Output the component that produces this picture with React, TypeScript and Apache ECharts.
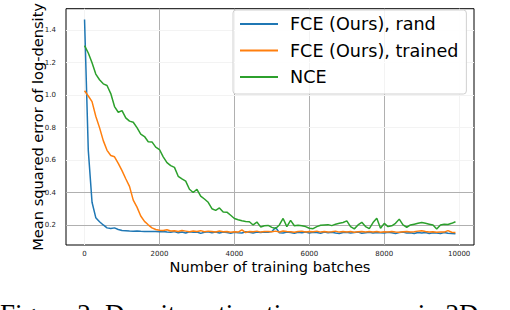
import React, { useEffect, useRef } from "react";
import * as echarts from "echarts";

const batches: number[] = Array.from({ length: 100 }, (_, i) => i * 100);

const randValues: number[] = [
  1.466, 0.66, 0.34, 0.245, 0.22, 0.2, 0.182, 0.178, 0.182, 0.172,
  0.166, 0.165, 0.163, 0.162, 0.163, 0.161, 0.16, 0.16, 0.159, 0.16,
  0.158, 0.16, 0.156, 0.155, 0.16, 0.152, 0.157, 0.15, 0.158, 0.155,
  0.157, 0.148, 0.155, 0.158, 0.152, 0.156, 0.15, 0.157, 0.153, 0.149,
  0.155, 0.152, 0.15, 0.158, 0.155, 0.151, 0.156, 0.153, 0.157, 0.155,
  0.16, 0.185, 0.152, 0.15, 0.156, 0.154, 0.149, 0.155, 0.152, 0.157,
  0.15, 0.155, 0.153, 0.149, 0.156, 0.152, 0.155, 0.151, 0.148, 0.154,
  0.155, 0.15, 0.153, 0.156, 0.149, 0.152, 0.155, 0.15, 0.154, 0.152,
  0.15, 0.155, 0.152, 0.148, 0.153, 0.156, 0.15, 0.152, 0.147, 0.153,
  0.15, 0.154, 0.148, 0.152, 0.15, 0.147, 0.153, 0.149, 0.148, 0.146,
];

const trainedValues: number[] = [
  1.027, 0.995, 0.96, 0.87, 0.8, 0.72, 0.66, 0.628, 0.62, 0.58,
  0.535, 0.485, 0.438, 0.353, 0.31, 0.255, 0.222, 0.201, 0.182, 0.172,
  0.167, 0.166, 0.17, 0.163, 0.165, 0.16, 0.166, 0.162, 0.158, 0.163,
  0.16, 0.165, 0.158, 0.162, 0.16, 0.157, 0.163, 0.158, 0.16, 0.155,
  0.158, 0.156, 0.17, 0.153, 0.16, 0.158, 0.162, 0.156, 0.159, 0.16,
  0.158, 0.162, 0.157, 0.163, 0.16, 0.158, 0.155, 0.16, 0.162, 0.157,
  0.16, 0.158, 0.162, 0.156, 0.16, 0.157, 0.158, 0.162, 0.156, 0.159,
  0.157, 0.16, 0.155, 0.158, 0.16, 0.156, 0.159, 0.157, 0.16, 0.155,
  0.158, 0.156, 0.16, 0.157, 0.155, 0.158, 0.16, 0.156, 0.158, 0.162,
  0.165, 0.16, 0.157, 0.158, 0.155, 0.157, 0.156, 0.165, 0.155, 0.153,
];

const nceValues: number[] = [
  1.306, 1.26, 1.2, 1.13, 1.095, 1.07, 1.06, 1.01, 0.93, 0.895,
  0.905, 0.86, 0.84, 0.833, 0.8, 0.76, 0.745, 0.713, 0.712, 0.68,
  0.665, 0.62, 0.584, 0.566, 0.555, 0.5, 0.484, 0.47, 0.42, 0.4,
  0.42, 0.378, 0.36, 0.34, 0.3, 0.29, 0.305, 0.28, 0.279, 0.26,
  0.24, 0.232, 0.226, 0.222, 0.22, 0.2, 0.218, 0.188, 0.195, 0.197,
  0.185, 0.178, 0.2, 0.24, 0.19, 0.228, 0.195, 0.198, 0.195, 0.19,
  0.18, 0.177, 0.19, 0.198, 0.2, 0.202, 0.196, 0.205, 0.21, 0.215,
  0.225, 0.19, 0.176, 0.2, 0.216, 0.19, 0.177, 0.215, 0.242, 0.18,
  0.21, 0.19, 0.195, 0.21, 0.236, 0.2, 0.186, 0.2, 0.205, 0.21,
  0.215, 0.21, 0.205, 0.2, 0.175, 0.2, 0.205, 0.203, 0.21, 0.22,
];

const seriesNames: string[] = ["FCE (Ours), rand", "FCE (Ours), trained", "NCE"];
const xTicks: number[] = [0, 2000, 4000, 6000, 8000, 10000];
const yTicks: number[] = [0.2, 0.4, 0.6, 0.8, 1.0, 1.2, 1.4];
const xStrongGrid: number[] = [2000, 4000, 6000, 8000];
const yStrongGrid: number[] = [0.2, 0.4];

const COLORS = ["#1f77b4", "#ff7f0e", "#2ca02c"];
const FONT = "DejaVu Sans";

export default function App() {
  const ref = useRef<HTMLDivElement>(null);
  useEffect(() => {
    if (!ref.current) return;
    const chart = echarts.init(ref.current, undefined, { renderer: "svg" });
    const valueSets = [randValues, trainedValues, nceValues];
    const gridLines: any[] = [];
    xTicks.forEach((v) =>
      gridLines.push({
        xAxis: v,
        lineStyle: { color: xStrongGrid.includes(v) ? "#b0b0b0" : "#f3f3f3", width: 1, type: "solid" },
      })
    );
    yTicks.forEach((v) =>
      gridLines.push({
        yAxis: v,
        lineStyle: { color: yStrongGrid.includes(v) ? "#b0b0b0" : "#f3f3f3", width: 1, type: "solid" },
      })
    );
    chart.setOption({
      animation: false,
      backgroundColor: "#ffffff",
      grid: {
        left: 66,
        top: 1,
        width: 408,
        height: 244,
        show: true,
        borderColor: "#000000",
        borderWidth: 1,
        backgroundColor: "transparent",
      },
      legend: {
        orient: "vertical",
        left: 233,
        top: 10,
        data: seriesNames,
        icon: "rect",
        itemWidth: 38,
        itemHeight: 2,
        itemGap: 6.5,
        padding: [4, 8, 7, 7],
        backgroundColor: "rgba(255,255,255,0.85)",
        borderColor: "#d0d0d0",
        borderWidth: 1,
        borderRadius: 3,
        textStyle: { fontFamily: FONT, fontSize: 17.6, color: "#000", lineHeight: 20, padding: [0, 0, 0, 7] },
        selectedMode: false,
      },
      xAxis: {
        type: "value",
        min: -495,
        max: 10395,
        axisLine: { show: false },
        axisTick: { show: false },
        splitLine: { show: false },
        axisLabel: {
          customValues: xTicks,
          formatter: (v: number) => String(v),
          fontFamily: FONT,
          fontSize: 7,
          color: "#222",
          margin: 5,
        },
        name: "Number of training batches",
        nameLocation: "middle",
        nameGap: 14,
        nameMoveOverlap: false,
        nameTextStyle: { fontFamily: FONT, fontSize: 14.6, color: "#000", verticalAlign: "top" },
      },
      yAxis: {
        type: "value",
        min: 0.0765,
        max: 1.533,
        axisLine: { show: false },
        axisTick: { show: false },
        splitLine: { show: false },
        axisLabel: {
          customValues: yTicks,
          formatter: (v: number) => v.toFixed(1),
          fontFamily: FONT,
          fontSize: 7,
          color: "#222",
          margin: 10,
        },
        name: "Mean squared error of log-density",
        nameLocation: "middle",
        nameGap: 21,
        nameMoveOverlap: false,
        nameTextStyle: { fontFamily: FONT, fontSize: 14.6, color: "#000" },
      },
      series: [
        {
          type: "line",
          name: "__grid",
          data: [],
          silent: true,
          z: 1,
          markLine: {
            silent: true,
            z: 1,
            symbol: ["none", "none"],
            label: { show: false },
            emphasis: { disabled: true },
            data: gridLines,
          },
        },
        ...seriesNames.map((name, i) => ({
          type: "line",
          name,
          data: batches.map((b, j) => [b, valueSets[i][j]]),
          showSymbol: false,
          symbol: "none",
          z: 2 + i,
          lineStyle: { color: COLORS[i], width: 1.5 },
          itemStyle: { color: COLORS[i] },
        })),
      ],
      graphic: [
        {
          type: "text",
          x: 0,
          y: 300,
          silent: true,
          style: {
            text: "Figure 2: Density estimation accuracy in 2D e",
            fontFamily: "Liberation Serif",
            fontSize: 27,
            fill: "#000",
            verticalAlign: "top",
          },
        },
      ],
    });
    return () => chart.dispose();
  }, []);
  return <div ref={ref} style={{ position: "fixed", left: 0, top: 0, width: 510, height: 310 }} />;
}
